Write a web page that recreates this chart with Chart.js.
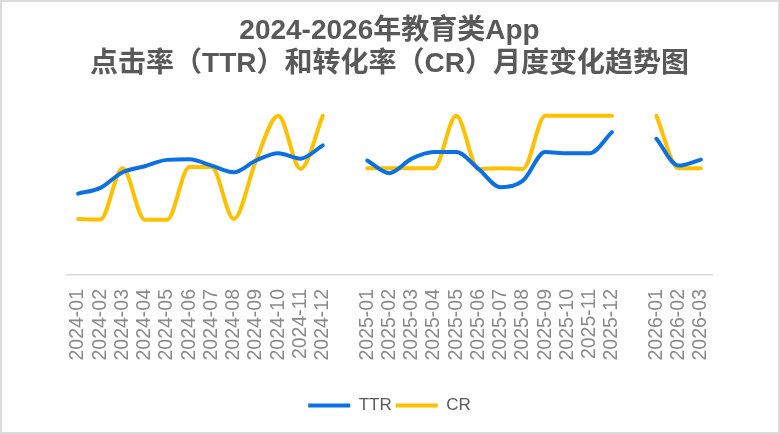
<!DOCTYPE html>
<html>
<head>
<meta charset="utf-8">
<script src="https://cdn.jsdelivr.net/npm/chart.js@4"></script>
<style>
  html, body { margin: 0; padding: 0; background: #fff; }
  #box { width: 780px; height: 434px; box-sizing: border-box; border: 2px solid #dcdcdc; position: relative; }
</style>
</head>
<body>
<div id="box"><canvas id="trendChart"></canvas></div>
<script>
// months, with an empty slot between the years so the lines break
const months = [
    '2024-01', '2024-02', '2024-03', '2024-04', '2024-05', '2024-06',
    '2024-07', '2024-08', '2024-09', '2024-10', '2024-11', '2024-12',
    '',
    '2025-01', '2025-02', '2025-03', '2025-04', '2025-05', '2025-06',
    '2025-07', '2025-08', '2025-09', '2025-10', '2025-11', '2025-12',
    '',
    '2026-01', '2026-02', '2026-03'
];

const ttr = [
    2.70, 2.89, 3.41, 3.61, 3.82, 3.84, 3.63, 3.41, 3.80, 4.04, 3.86, 4.30,
    null,
    3.80, 3.38, 3.86, 4.08, 4.08, 3.52, 2.91, 3.13, 4.08, 4.04, 4.04, 4.74,
    null,
    4.52, 3.63, 3.83
];

const cr = [
    1.86, 1.84, 3.54, 1.83, 1.83, 3.58, 3.58, 1.86, 3.80, 5.28, 3.52, 5.28,
    null,
    3.54, 3.54, 3.54, 3.54, 5.28, 3.52, 3.54, 3.52, 5.28, 5.28, 5.28, 5.28,
    null,
    5.28, 3.54, 3.54
];

const ctx = document.getElementById('trendChart').getContext('2d');

new Chart(ctx, {
    type: 'line',
    data: {
        labels: months,
        datasets: [{
            label: 'TTR',
            data: ttr,
            borderColor: '#0B70E4',
            backgroundColor: '#0B70E4',
            borderWidth: 4,
            borderCapStyle: 'round',
            cubicInterpolationMode: 'monotone',
            pointRadius: 0,
            spanGaps: false
        }, {
            label: 'CR',
            data: cr,
            borderColor: '#FFC000',
            backgroundColor: '#FFC000',
            borderWidth: 4,
            borderCapStyle: 'round',
            cubicInterpolationMode: 'monotone',
            pointRadius: 0,
            spanGaps: false
        }]
    },
    options: {
        responsive: true,
        maintainAspectRatio: false,
        animation: false,
        layout: {
            padding: { left: 65, right: 66, top: 0, bottom: 8 }
        },
        scales: {
            x: {
                offset: true,
                grid: { display: false, drawTicks: false },
                border: { display: true, color: '#d9d9d9', width: 1.5 },
                ticks: {
                    autoSkip: false,
                    minRotation: 90,
                    maxRotation: 90,
                    padding: 14,
                    color: '#8a8a8a',
                    font: { family: 'Liberation Sans, Arial, sans-serif', size: 19.5 }
                },
                afterFit: function (scale) {
                    scale.height = 118;
                }
            },
            y: {
                display: false,
                min: 0,
                max: 5.8
            }
        },
        plugins: {
            title: {
                display: true,
                text: ['2024-2026年教育类App', '点击率（TTR）和转化率（CR）月度变化趋势图'],
                color: '#595959',
                font: { family: 'Liberation Sans, "Noto Sans CJK SC", sans-serif', size: 28, weight: 'bold', lineHeight: 1.2 },
                padding: { top: 12, bottom: 19 }
            },
            legend: {
                position: 'bottom',
                labels: {
                    usePointStyle: true,
                    pointStyle: 'line',
                    pointStyleWidth: 42,
                    padding: 4,
                    color: '#595959',
                    font: { family: 'Liberation Sans, Arial, sans-serif', size: 17 }
                }
            },
            tooltip: { enabled: false }
        }
    }
});
</script>
</body>
</html>
